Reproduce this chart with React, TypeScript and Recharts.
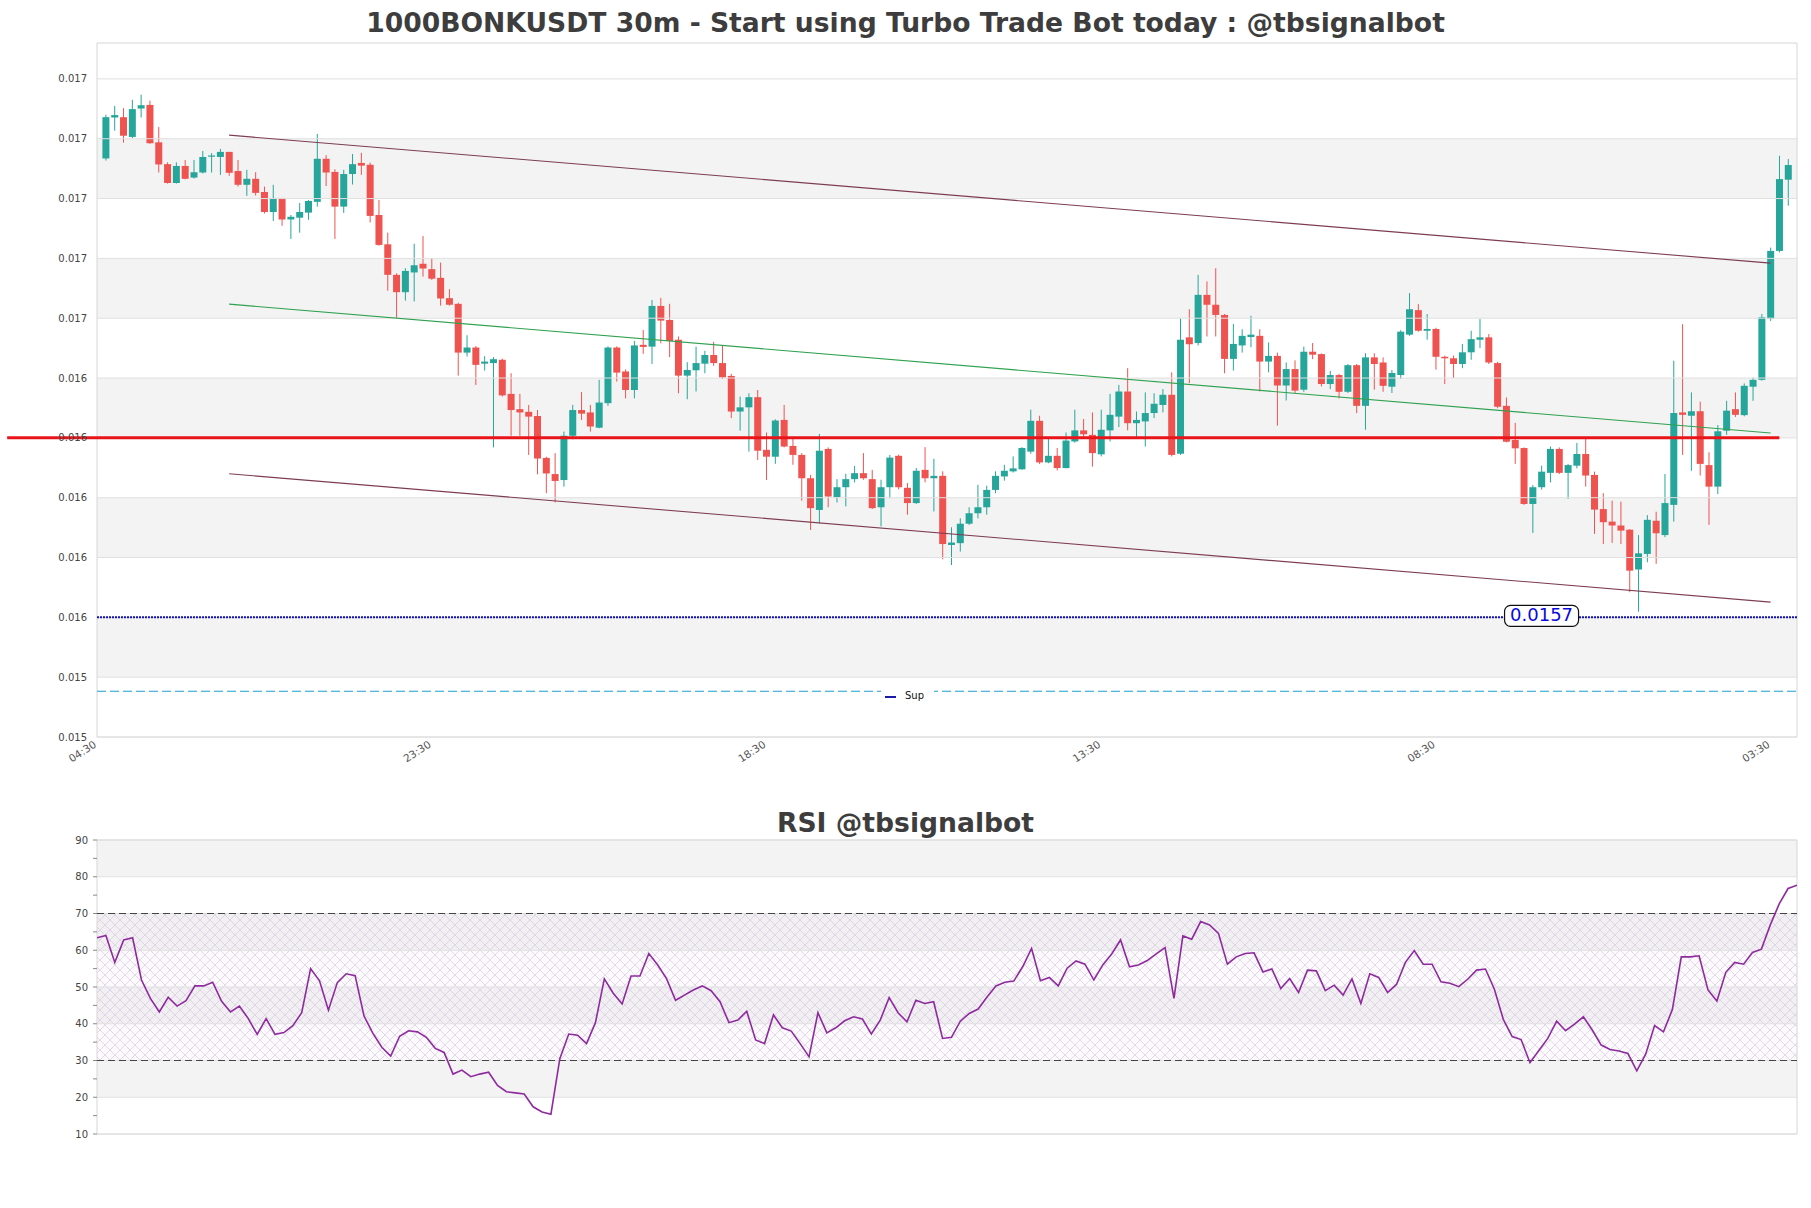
import React from 'react';
import {
  ComposedChart, Bar, XAxis, YAxis, ReferenceLine, ReferenceArea, ReferenceDot,
  LineChart, Line,
} from 'recharts';

// 30m candles, oldest first
const opens = [
  0.017234, 0.017371, 0.017372, 0.017306, 0.017401, 0.017413, 0.017288, 0.017215, 0.017152, 0.017209,
  0.017170, 0.017187, 0.017240, 0.017239, 0.017256, 0.017192, 0.017146, 0.017166, 0.017122, 0.017055,
  0.017102, 0.017030, 0.017036, 0.017053, 0.017089, 0.017233, 0.017189, 0.017073, 0.017182, 0.017219,
  0.017213, 0.017045, 0.016947, 0.016845, 0.016787, 0.016853, 0.016882, 0.016864, 0.016835, 0.016767,
  0.016748, 0.016585, 0.016602, 0.016548, 0.016550, 0.016561, 0.016447, 0.016396, 0.016387, 0.016373,
  0.016233, 0.016179, 0.016159, 0.016307, 0.016393, 0.016385, 0.016334, 0.016416, 0.016602, 0.016522,
  0.016460, 0.016611, 0.016605, 0.016741, 0.016694, 0.016628, 0.016508, 0.016526, 0.016548, 0.016577,
  0.016550, 0.016507, 0.016388, 0.016402, 0.016436, 0.016260, 0.016237, 0.016360, 0.016273, 0.016243,
  0.016165, 0.016059, 0.016263, 0.016102, 0.016135, 0.016162, 0.016182, 0.016162, 0.016068, 0.016135,
  0.016240, 0.016133, 0.016082, 0.016193, 0.016165, 0.016173, 0.015942, 0.015948, 0.016013, 0.016048,
  0.016068, 0.016126, 0.016171, 0.016188, 0.016195, 0.016254, 0.016357, 0.016218, 0.016240, 0.016199,
  0.016288, 0.016325, 0.016310, 0.016245, 0.016325, 0.016371, 0.016455, 0.016349, 0.016355, 0.016383,
  0.016410, 0.016444, 0.016247, 0.016636, 0.016617, 0.016778, 0.016745, 0.016711, 0.016564, 0.016609,
  0.016637, 0.016641, 0.016555, 0.016574, 0.016475, 0.016530, 0.016461, 0.016588, 0.016580, 0.016480,
  0.016510, 0.016454, 0.016543, 0.016407, 0.016569, 0.016552, 0.016471, 0.016510, 0.016645, 0.016727,
  0.016658, 0.016664, 0.016571, 0.016566, 0.016547, 0.016586, 0.016628, 0.016636, 0.016550, 0.016407,
  0.016293, 0.016266, 0.016079, 0.016135, 0.016183, 0.016263, 0.016183, 0.016207, 0.016246, 0.016176,
  0.016062, 0.016020, 0.016007, 0.015993, 0.015860, 0.015912, 0.016023, 0.015975, 0.016076, 0.016385,
  0.016374, 0.016389, 0.016209, 0.016137, 0.016324, 0.016396, 0.016376, 0.016471, 0.016494, 0.016699,
  0.016925, 0.017163,
];

const highs = [
  0.017380, 0.017410, 0.017402, 0.017430, 0.017447, 0.017427, 0.017339, 0.017221, 0.017221, 0.017229,
  0.017229, 0.017259, 0.017252, 0.017266, 0.017256, 0.017229, 0.017196, 0.017188, 0.017140, 0.017146,
  0.017102, 0.017045, 0.017085, 0.017095, 0.017316, 0.017245, 0.017198, 0.017196, 0.017249, 0.017253,
  0.017220, 0.017095, 0.016986, 0.016850, 0.016867, 0.016949, 0.016975, 0.016901, 0.016886, 0.016797,
  0.016752, 0.016643, 0.016607, 0.016573, 0.016570, 0.016565, 0.016516, 0.016447, 0.016410, 0.016393,
  0.016237, 0.016249, 0.016321, 0.016410, 0.016453, 0.016410, 0.016494, 0.016606, 0.016606, 0.016529,
  0.016624, 0.016661, 0.016761, 0.016768, 0.016748, 0.016639, 0.016553, 0.016605, 0.016591, 0.016621,
  0.016609, 0.016514, 0.016438, 0.016449, 0.016460, 0.016318, 0.016362, 0.016410, 0.016299, 0.016249,
  0.016176, 0.016313, 0.016268, 0.016162, 0.016180, 0.016206, 0.016249, 0.016193, 0.016160, 0.016243,
  0.016244, 0.016149, 0.016199, 0.016269, 0.016230, 0.016188, 0.016001, 0.016031, 0.016068, 0.016143,
  0.016140, 0.016188, 0.016210, 0.016238, 0.016269, 0.016394, 0.016374, 0.016296, 0.016266, 0.016318,
  0.016394, 0.016363, 0.016385, 0.016394, 0.016447, 0.016477, 0.016533, 0.016388, 0.016452, 0.016449,
  0.016463, 0.016519, 0.016700, 0.016730, 0.016845, 0.016823, 0.016867, 0.016714, 0.016681, 0.016663,
  0.016708, 0.016663, 0.016619, 0.016585, 0.016552, 0.016559, 0.016605, 0.016617, 0.016582, 0.016524,
  0.016514, 0.016547, 0.016547, 0.016583, 0.016583, 0.016569, 0.016527, 0.016660, 0.016784, 0.016747,
  0.016714, 0.016668, 0.016575, 0.016575, 0.016614, 0.016658, 0.016697, 0.016647, 0.016554, 0.016435,
  0.016350, 0.016268, 0.016142, 0.016207, 0.016271, 0.016268, 0.016213, 0.016283, 0.016296, 0.016187,
  0.016115, 0.016090, 0.016087, 0.015995, 0.015975, 0.016042, 0.016053, 0.016179, 0.016558, 0.016680,
  0.016452, 0.016421, 0.016252, 0.016343, 0.016424, 0.016452, 0.016482, 0.016502, 0.016714, 0.016936,
  0.017243, 0.017232,
];

const lows = [
  0.017227, 0.017327, 0.017287, 0.017302, 0.017371, 0.017283, 0.017187, 0.017150, 0.017150, 0.017164,
  0.017167, 0.017184, 0.017187, 0.017179, 0.017176, 0.017140, 0.017109, 0.017110, 0.017050, 0.017025,
  0.017009, 0.016965, 0.016986, 0.017029, 0.017073, 0.017142, 0.016965, 0.017052, 0.017147, 0.017179,
  0.017020, 0.016942, 0.016792, 0.016700, 0.016759, 0.016756, 0.016839, 0.016828, 0.016742, 0.016742,
  0.016508, 0.016572, 0.016477, 0.016525, 0.016268, 0.016438, 0.016307, 0.016307, 0.016243, 0.016178,
  0.016115, 0.016084, 0.016137, 0.016295, 0.016360, 0.016321, 0.016332, 0.016407, 0.016488, 0.016432,
  0.016432, 0.016581, 0.016547, 0.016616, 0.016570, 0.016449, 0.016429, 0.016455, 0.016516, 0.016541,
  0.016497, 0.016366, 0.016324, 0.016254, 0.016226, 0.016159, 0.016213, 0.016268, 0.016210, 0.016090,
  0.015992, 0.016014, 0.016068, 0.016084, 0.016071, 0.016151, 0.016160, 0.016062, 0.016004, 0.016098,
  0.016128, 0.016043, 0.016079, 0.016151, 0.016054, 0.015894, 0.015875, 0.015920, 0.016009, 0.016031,
  0.016043, 0.016115, 0.016157, 0.016184, 0.016193, 0.016247, 0.016213, 0.016215, 0.016191, 0.016198,
  0.016284, 0.016299, 0.016204, 0.016238, 0.016288, 0.016336, 0.016325, 0.016302, 0.016271, 0.016366,
  0.016385, 0.016238, 0.016243, 0.016483, 0.016609, 0.016639, 0.016639, 0.016516, 0.016525, 0.016585,
  0.016603, 0.016455, 0.016519, 0.016341, 0.016425, 0.016449, 0.016454, 0.016563, 0.016472, 0.016463,
  0.016432, 0.016450, 0.016383, 0.016327, 0.016461, 0.016454, 0.016450, 0.016497, 0.016641, 0.016655,
  0.016628, 0.016528, 0.016480, 0.016500, 0.016533, 0.016561, 0.016600, 0.016547, 0.016399, 0.016285,
  0.016213, 0.016076, 0.015982, 0.016127, 0.016151, 0.016179, 0.016096, 0.016198, 0.016137, 0.015979,
  0.015945, 0.015949, 0.015945, 0.015784, 0.015719, 0.015884, 0.015879, 0.015968, 0.016020, 0.016243,
  0.016190, 0.016174, 0.016009, 0.016112, 0.016310, 0.016370, 0.016372, 0.016424, 0.016491, 0.016691,
  0.016920, 0.017076,
];

const closes = [
  0.017372, 0.017379, 0.017310, 0.017399, 0.017412, 0.017285, 0.017214, 0.017152, 0.017209, 0.017166,
  0.017188, 0.017239, 0.017244, 0.017256, 0.017186, 0.017146, 0.017166, 0.017119, 0.017055, 0.017102,
  0.017030, 0.017039, 0.017055, 0.017092, 0.017233, 0.017187, 0.017073, 0.017182, 0.017215, 0.017210,
  0.017042, 0.016945, 0.016845, 0.016787, 0.016858, 0.016877, 0.016866, 0.016832, 0.016766, 0.016745,
  0.016585, 0.016602, 0.016544, 0.016555, 0.016563, 0.016442, 0.016393, 0.016385, 0.016371, 0.016231,
  0.016181, 0.016156, 0.016307, 0.016393, 0.016381, 0.016338, 0.016418, 0.016602, 0.016518, 0.016460,
  0.016609, 0.016604, 0.016741, 0.016692, 0.016624, 0.016508, 0.016527, 0.016550, 0.016577, 0.016550,
  0.016502, 0.016388, 0.016402, 0.016436, 0.016257, 0.016237, 0.016358, 0.016271, 0.016243, 0.016165,
  0.016065, 0.016257, 0.016104, 0.016135, 0.016162, 0.016182, 0.016165, 0.016065, 0.016135, 0.016234,
  0.016135, 0.016082, 0.016190, 0.016165, 0.016173, 0.015945, 0.015950, 0.016013, 0.016048, 0.016068,
  0.016126, 0.016173, 0.016190, 0.016198, 0.016266, 0.016357, 0.016218, 0.016240, 0.016199, 0.016291,
  0.016325, 0.016312, 0.016249, 0.016327, 0.016377, 0.016455, 0.016349, 0.016360, 0.016383, 0.016414,
  0.016444, 0.016243, 0.016628, 0.016613, 0.016778, 0.016745, 0.016711, 0.016564, 0.016614, 0.016641,
  0.016645, 0.016555, 0.016574, 0.016475, 0.016530, 0.016458, 0.016588, 0.016578, 0.016480, 0.016510,
  0.016454, 0.016543, 0.016407, 0.016569, 0.016547, 0.016474, 0.016517, 0.016655, 0.016730, 0.016658,
  0.016664, 0.016571, 0.016566, 0.016547, 0.016586, 0.016630, 0.016636, 0.016552, 0.016404, 0.016287,
  0.016265, 0.016079, 0.016135, 0.016187, 0.016263, 0.016183, 0.016209, 0.016246, 0.016174, 0.016060,
  0.016018, 0.016007, 0.015990, 0.015856, 0.015914, 0.016026, 0.015981, 0.016082, 0.016383, 0.016377,
  0.016389, 0.016213, 0.016137, 0.016322, 0.016391, 0.016377, 0.016474, 0.016494, 0.016703, 0.016925,
  0.017165, 0.017212,
];

const rsiValues = [
  63.4, 64.0, 56.7, 62.8, 63.4, 51.9, 46.9, 43.2, 47.2, 44.8,
  46.3, 50.3, 50.3, 51.3, 46.1, 43.2, 44.8, 41.4, 37.1, 41.4,
  37.1, 37.6, 39.5, 43.0, 55.0, 51.7, 43.7, 51.2, 53.6, 53.1,
  42.1, 37.4, 33.6, 31.2, 36.6, 38.1, 37.8, 36.3, 33.3, 32.2,
  26.3, 27.4, 25.6, 26.3, 26.8, 23.2, 21.5, 21.2, 20.9, 17.4,
  16.0, 15.4, 30.5, 37.2, 36.9, 34.6, 40.3, 52.2, 48.3, 45.4,
  53.0, 53.0, 59.1, 56.0, 52.2, 46.4, 47.8, 49.2, 50.3, 49.0,
  46.0, 40.3, 41.0, 43.4, 35.6, 34.6, 42.4, 38.9, 38.0, 34.6,
  31.0, 43.0, 37.5, 38.9, 40.8, 41.9, 41.3, 37.2, 41.0, 47.1,
  43.0, 40.5, 46.4, 45.5, 46.0, 36.0, 36.3, 40.7, 42.8, 44.0,
  47.3, 50.3, 51.3, 51.6, 55.5, 60.5, 51.7, 52.6, 50.3, 55.1,
  57.1, 56.2, 51.9, 56.0, 59.0, 62.8, 55.5, 56.0, 57.2, 59.0,
  60.7, 46.9, 63.9, 63.0, 67.8, 66.9, 64.6, 56.2, 58.2, 59.1,
  59.3, 54.1, 54.9, 49.6, 52.3, 48.5, 54.6, 54.4, 49.0, 50.5,
  47.8, 52.2, 45.5, 53.6, 52.6, 48.5, 50.7, 56.7, 59.9, 56.2,
  56.2, 51.4, 51.0, 50.1, 52.1, 54.6, 54.9, 49.4, 41.2, 36.5,
  35.7, 29.4, 32.7, 36.0, 40.7, 38.1, 39.9, 41.9, 38.3, 34.2,
  33.0, 32.6, 31.9, 27.2, 31.7, 39.5, 37.8, 43.9, 58.2, 58.2,
  58.5, 49.2, 46.2, 54.0, 56.7, 56.2, 59.4, 60.3, 66.9, 72.6,
  76.8, 77.7,
];

const xTickIndex = [-1, 37, 75, 113, 151, 189];
const xTickLabels = ['04:30', '23:30', '18:30', '13:30', '08:30', '03:30'];

const priceTicks = [0.0153, 0.0155, 0.0157, 0.0159, 0.0161, 0.0163, 0.0165, 0.0167, 0.0169, 0.0171, 0.0173, 0.0175];
const priceTickLabels = ['0.015', '0.015', '0.016', '0.016', '0.016', '0.016', '0.016', '0.017', '0.017', '0.017', '0.017', '0.017'];
const priceBands = [[0.0155, 0.0157], [0.0159, 0.0161], [0.0163, 0.0165], [0.0167, 0.0169], [0.0171, 0.0173]];

const resistanceLevel = 0.0163;
const resistanceSpan = [-11.2, 190];
const supportLevel = 0.0157;
const supportLabelAt = 163;
const supLevel = 0.015453;

// channel lines: [startIndex, startPrice, endIndex, endPrice]
const channelUpper = [14, 0.017312, 189, 0.016884];
const channelMid = [14, 0.016747, 189, 0.016316];
const channelLower = [14, 0.016180, 189, 0.015751];

const rsiTicks = [10, 15, 20, 25, 30, 35, 40, 45, 50, 55, 60, 65, 70, 75, 80, 85, 90];
const rsiBands = [[20, 30], [40, 50], [60, 70], [80, 90]];

const candles = opens.map((o, i) => ({ i, open: o, high: highs[i], low: lows[i], close: closes[i] }));
const rsiData = rsiValues.map((v, i) => ({ i, rsi: v }));

const FONT = '"DejaVu Sans", sans-serif';
const PRICE_DOMAIN = [0.0153, 0.01762];

const Candle = (props: any) => {
  const { x, y, width, height, payload } = props;
  const { open, close, high, low } = payload;
  const top = Math.min(y, y + height);
  const h = Math.abs(height);
  const ratio = h / (high - low);
  const cx = x + width / 2;
  const yOpen = top + (high - open) * ratio;
  const yClose = top + (high - close) * ratio;
  const color = close >= open ? '#26a69a' : '#ef5350';
  const bodyTop = Math.min(yOpen, yClose);
  const bodyH = Math.max(Math.abs(yOpen - yClose), 1);
  return (
    <g>
      <line x1={cx} x2={cx} y1={top} y2={top + h} stroke={color} strokeWidth={1} />
      <rect x={x} y={bodyTop} width={width} height={bodyH} fill={color} />
    </g>
  );
};

const TimeTick = (props: any) => {
  const { x, y, payload } = props;
  const k = xTickIndex.indexOf(payload.value);
  const ax = x - 4;
  return (
    <text x={ax} y={y} transform={`rotate(-33 ${ax} ${y})`} textAnchor="end" dy="0.72em"
      fontSize={10.5} fill="#555" fontFamily={FONT}>
      {xTickLabels[k]}
    </text>
  );
};

const priceLabel = (v: number) => {
  const k = priceTicks.findIndex(t => Math.abs(t - v) < 1e-9);
  return k >= 0 ? priceTickLabels[k] : '';
};

const SupportTag = (props: any) => {
  const { cx, cy } = props;
  return (
    <g>
      <rect x={cx - 37} y={cy - 12} width={74} height={21} rx={6} ry={6} fill="#fff" stroke="#111" strokeWidth={1.2} />
      <text x={cx} y={cy - 1.5} textAnchor="middle" dominantBaseline="middle" fontSize={18} fill="#0a0adc" fontFamily={FONT}>
        {String(supportLevel)}
      </text>
    </g>
  );
};

const segment = (c: number[]) => [{ x: c[0], y: c[1] }, { x: c[2], y: c[3] }];

export default function App() {
  return (
    <div style={{ position: 'absolute', left: 0, top: 0, width: 1811, height: 1208, background: '#fff', fontFamily: FONT }}>
      <div style={{ position: 'absolute', left: 0, top: 9, width: 1811, textAlign: 'center', fontSize: 26.6, lineHeight: '27px', fontWeight: 'bold', color: '#3d3d3d' }}>
        1000BONKUSDT 30m - Start using Turbo Trade Bot today : @tbsignalbot
      </div>

      <div style={{ position: 'absolute', left: 0, top: 0 }}>
        <ComposedChart width={1811} height={790} data={candles} margin={{ top: 43, right: 14, bottom: 13, left: 0 }}>
          {priceBands.map((b, k) => (
            <ReferenceArea key={`pb${k}`} y1={b[0]} y2={b[1]} x1={-1} x2={192} fill="#f3f3f3" fillOpacity={1} stroke="none" ifOverflow="hidden" />
          ))}
          {priceTicks.map(t => (
            <ReferenceLine key={`pg${t}`} y={t} stroke="#e0e0e0" strokeWidth={1} />
          ))}
          <ReferenceArea x1={-1} x2={192} y1={PRICE_DOMAIN[0]} y2={PRICE_DOMAIN[1]} fill="none" stroke="#d6d6d6" strokeWidth={1} />
          <XAxis type="number" dataKey="i" domain={[-1, 192]} ticks={xTickIndex} interval={0} allowDataOverflow
            axisLine={false} tickLine={false} tickSize={0} tickMargin={3} height={40} tick={<TimeTick />} />
          <YAxis type="number" domain={PRICE_DOMAIN} ticks={priceTicks} interval={0} allowDataOverflow width={97}
            axisLine={false} tickLine={false} tickSize={0} tickMargin={10} tickFormatter={priceLabel}
            tick={{ fontSize: 10, fill: '#444', fontFamily: FONT }} />
          <ReferenceLine segment={segment(channelUpper)} stroke="#7d3c52" strokeWidth={1.1} ifOverflow="visible" />
          <ReferenceLine segment={segment(channelMid)} stroke="#2fa14f" strokeWidth={1.1} ifOverflow="visible" />
          <ReferenceLine segment={segment(channelLower)} stroke="#7d3c52" strokeWidth={1.1} ifOverflow="visible" />
          <Bar dataKey={(d: any) => [d.low, d.high]} barSize={7} shape={<Candle />} isAnimationActive={false} />
          <ReferenceLine segment={[{ x: resistanceSpan[0], y: resistanceLevel }, { x: resistanceSpan[1], y: resistanceLevel }]}
            stroke="#e8141a" strokeWidth={3} ifOverflow="visible" />
          <ReferenceLine y={supportLevel} stroke="#1414b4" strokeWidth={2} strokeDasharray="2 1" />
          <ReferenceLine y={supLevel} stroke="#1ba0d4" strokeWidth={1.2} strokeDasharray="9 4" />
          <ReferenceDot x={supportLabelAt} y={supportLevel} r={1} shape={<SupportTag />} ifOverflow="visible" />
        </ComposedChart>
      </div>

      <div style={{ position: 'absolute', left: 881, top: 688, width: 53, height: 18, background: '#fff' }}>
        <div style={{ position: 'absolute', left: 4, top: 8, width: 11, height: 2, background: '#1a1aa8' }} />
        <div style={{ position: 'absolute', left: 24, top: 2, fontSize: 10, lineHeight: '12px', color: '#111' }}>Sup</div>
      </div>

      <div style={{ position: 'absolute', left: 0, top: 809, width: 1811, textAlign: 'center', fontSize: 26.6, lineHeight: '27px', fontWeight: 'bold', color: '#3d3d3d' }}>
        RSI @tbsignalbot
      </div>

      <div style={{ position: 'absolute', left: 0, top: 800 }}>
        <LineChart width={1811} height={360} data={rsiData} margin={{ top: 40, right: 14, bottom: 26, left: 0 }}>
          <defs>
            <pattern id="rsiHatch" width="10" height="10" patternUnits="userSpaceOnUse">
              <rect width="10" height="10" fill="#e9d6ef" fillOpacity={0.1} />
              <path d="M0,0 L10,10 M10,0 L0,10" stroke="#d2c4da" strokeWidth={0.6} />
            </pattern>
          </defs>
          {rsiBands.map((b, k) => (
            <ReferenceArea key={`rb${k}`} y1={b[0]} y2={b[1]} x1={0} x2={191} fill="#f3f3f3" fillOpacity={1} stroke="none" />
          ))}
          {rsiTicks.filter(t => t % 10 === 0).map(t => (
            <ReferenceLine key={`rg${t}`} y={t} stroke="#e0e0e0" strokeWidth={1} />
          ))}
          <ReferenceArea y1={30} y2={70} x1={0} x2={191} fill="url(#rsiHatch)" fillOpacity={1} stroke="none" />
          <ReferenceArea x1={0} x2={191} y1={10} y2={90} fill="none" stroke="#d6d6d6" strokeWidth={1} />
          <XAxis type="number" dataKey="i" domain={[0, 191]} hide allowDataOverflow />
          <YAxis type="number" domain={[10, 90]} ticks={rsiTicks} interval={0} allowDataOverflow width={97}
            axisLine={false} tickLine={{ stroke: '#888' }} tickSize={4} tickMargin={5}
            tickFormatter={(v: number) => (v % 10 === 0 ? String(v) : '')}
            tick={{ fontSize: 10, fill: '#444', fontFamily: FONT }} />
          <ReferenceLine y={70} stroke="#444" strokeWidth={1.2} strokeDasharray="7 4" />
          <ReferenceLine y={30} stroke="#444" strokeWidth={1.2} strokeDasharray="7 4" />
          <Line type="linear" dataKey="rsi" stroke="#8e2a9e" strokeWidth={1.6} dot={false} isAnimationActive={false} />
        </LineChart>
      </div>
    </div>
  );
}
